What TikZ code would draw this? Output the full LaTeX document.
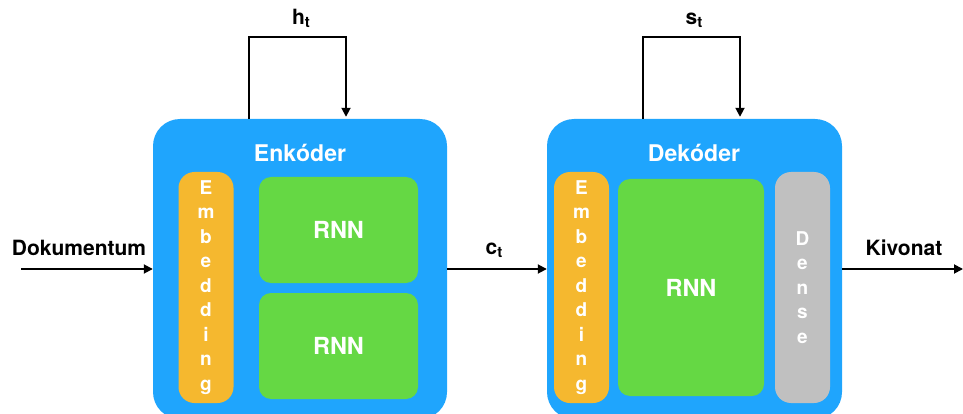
\documentclass[tikz,border=0pt]{standalone}
\usepackage{fontspec}
\setmainfont{TeX Gyre Heros}
\usetikzlibrary{arrows.meta,calc}
\definecolor{cblue}{HTML}{1FA5FD}
\definecolor{corange}{HTML}{F5B82F}
\definecolor{cgreen}{HTML}{65D844}
\definecolor{cgray}{HTML}{C0C0C0}
\newcommand{\sbt}{\raisebox{-0.25ex}{\fontsize{15}{15}\selectfont t}}
\begin{document}
\begin{tikzpicture}[x=1pt,y=-1pt,
  outerbox/.style={fill=cblue,rounded corners=27pt,inner sep=0pt},
  embbox/.style={fill=corange,rounded corners=16pt,inner sep=0pt,minimum width=55pt,minimum height=231pt,
     text=white,align=center,font=\bfseries\fontsize{19}{24.5}\selectfont},
  densebox/.style={embbox,fill=cgray},
  rnnbox/.style={fill=cgreen,rounded corners=12pt,inner sep=0pt,text=white,font=\bfseries\fontsize{23.5}{23.5}\selectfont},
  title/.style={text=white,font=\bfseries\fontsize{23}{23}\selectfont},
  lbl/.style={text=black,font=\bfseries\fontsize{21}{21}\selectfont},
  arr/.style={line width=1.8pt,-{Triangle[length=9pt,width=9pt]}},
  loop/.style={line width=1.8pt,-{Triangle[length=9pt,width=9pt]},shorten >=2pt}]
\useasboundingbox (0,0) rectangle (963,414);
% encoder
\node[outerbox,minimum width=294pt,minimum height=300pt] (enc) at (300,269) {};
\node[title] (enct) at (300,153) {Enkóder};
\node[embbox] (emb1) at (206,287.5) {E\\m\\b\\e\\d\\d\\i\\n\\g};
\node[rnnbox,minimum width=159pt,minimum height=106pt] (rnn1) at (338.5,230) {RNN};
\node[rnnbox,minimum width=159pt,minimum height=106pt] (rnn2) at (338.5,346) {RNN};
% decoder
\node[outerbox,minimum width=295pt,minimum height=300pt] (dec) at (694.5,269) {};
\node[title] (dect) at (694,153) {Dekóder};
\node[embbox] (emb2) at (581.5,287.5) {E\\m\\b\\e\\d\\d\\i\\n\\g};
\node[rnnbox,minimum width=146pt,minimum height=217pt] (rnn3) at (691,287.5) {RNN};
\node[densebox] (dense) at (802.5,287.5) {D\\e\\n\\s\\e};
% labels
\node[lbl] (ht) at (301,18) {h\sbt};
\node[lbl] (st) at (694,20) {s\sbt};
\node[lbl] (ct) at (494,250) {c\sbt};
\node[lbl] (doc) at (79,248) {Dokumentum};
\node[lbl] (kiv) at (904,248) {Kivonat};
\coordinate (in) at (21,269);
\coordinate (out) at (963,269);
% connectors
\draw[arr] (in) -- (enc.west);
\draw[arr] (enc.east) -- (dec.west);
\draw[arr] (dec.east) -- (out);
\draw[loop] ([xshift=-51pt]enc.north) -- ++(0,-82) -| ([xshift=46pt]enc.north);
\draw[loop] ([xshift=-51.5pt]dec.north) -- ++(0,-82) -| ([xshift=45.5pt]dec.north);
\end{tikzpicture}
\end{document}
